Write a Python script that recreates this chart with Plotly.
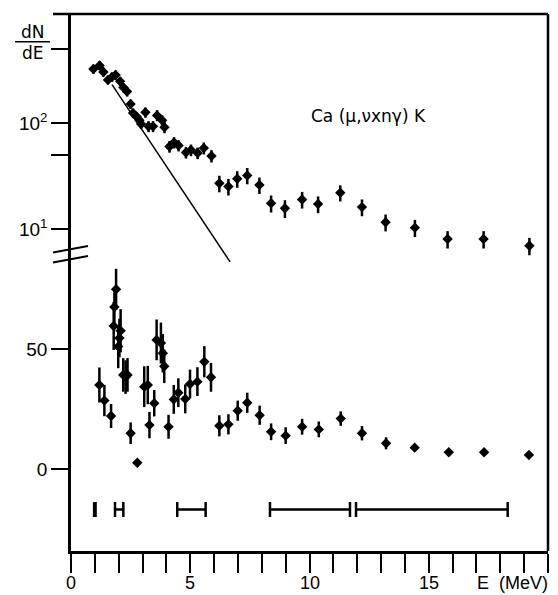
import plotly.graph_objects as go

# ---- upper panel: dN/dE on a log scale ----
top_E = [0.94, 1.20, 1.36, 1.55, 1.72, 1.87, 2.06, 2.20, 2.35, 2.50,
         2.60, 2.75, 2.87, 2.94, 3.12, 3.25, 3.44, 3.61, 3.82, 3.92,
         4.13, 4.32, 4.51, 4.82, 5.03, 5.31, 5.57, 5.89,
         6.22, 6.60, 6.97, 7.39, 7.90, 8.39, 8.97, 9.69, 10.36, 11.29,
         12.20, 13.19, 14.42, 15.79, 17.30, 19.22]
top_N = [323, 349, 303, 255, 272, 284, 247, 216, 198, 151,
         124, 115, 106, 98, 126, 93, 93, 118, 106, 91,
         60, 65.5, 61.4, 52.7, 55.6, 52.1, 58, 48.9,
         27.0, 25.2, 29.8, 32.0, 26.0, 17.5, 15.7, 19.0, 17.2, 22.0,
         16.1, 11.6, 10.3, 8.05, 8.05, 6.96]
top_err = [32, 35, 30, 25, 27, 28, 25, 22, 20, 15,
           13, 12, 11, 10, 14, 11, 11, 14, 12, 11,
           7.5, 8, 7.5, 6.5, 7, 6.5, 7.5, 6.5,
           4.8, 4.5, 5.3, 5.6, 4.6, 3.2, 3.0, 3.4, 3.1, 3.8,
           2.9, 2.1, 1.9, 1.5, 1.5, 1.3]

# exponential background drawn through the low-energy part
fit_E = [1.72, 6.67]
fit_N = [230, 4.9]

# ---- lower panel: linear scale ----
bot_E = [1.19, 1.40, 1.68, 1.79, 1.82, 1.89, 1.98, 2.03, 2.08, 2.19,
         2.29, 2.37, 2.50, 2.78, 3.07, 3.22, 3.29, 3.49, 3.59, 3.77,
         3.85, 3.91, 4.09, 4.31, 4.50, 4.79, 4.99, 5.30, 5.59, 5.87,
         6.22, 6.60, 6.99, 7.39, 7.91, 8.39, 9.00, 9.69, 10.39, 11.31,
         12.20, 13.21, 14.41, 15.84, 17.32, 19.20]
bot_N = [35.0, 28.5, 22.1, 59.6, 67.5, 74.9, 51.0, 54.6, 57.6, 39.2,
         38.3, 39.2, 14.9, 2.6, 34.3, 35.0, 18.3, 27.4, 53.8, 52.5,
         48.2, 42.8, 17.6, 29.0, 31.8, 29.2, 35.4, 36.4, 44.7, 38.2,
         18.0, 18.6, 24.3, 27.6, 22.4, 15.5, 13.9, 17.6, 16.5, 21.0,
         14.9, 10.7, 8.9, 7.0, 7.0, 5.8]
bot_err = [7.3, 6.5, 5.0, 10.0, 8.0, 8.5, 9.0, 8.0, 9.0, 7.0,
           7.0, 7.0, 4.5, 0.8, 8.5, 8.0, 5.5, 5.5, 8.5, 8.5,
           8.0, 7.0, 5.0, 6.0, 6.0, 6.0, 6.0, 6.0, 6.5, 6.0,
           4.4, 4.2, 4.2, 4.2, 4.0, 3.5, 3.5, 3.3, 3.3, 3.0,
           3.0, 2.5, 1.5, 1.0, 1.0, 0.8]

# energy resolution bars drawn under the spectrum
res_E = [1.0, 2.02, 5.05, 10.02, 15.13]
res_half = [0.03, 0.175, 0.595, 1.677, 3.18]
res_level = [-16.9] * len(res_E)

x_ticks = list(range(0, 21))
x_label_vals = [0, 5, 10, 15]
x_label_text = ["0", "5", "10", "15"]
top_tickvals = [10, 50, 100, 500]
top_ticktext = ["10<sup>1</sup>", "", "10<sup>2</sup>", ""]
bot_tickvals = [0, 50]
bot_ticktext = ["0", "50"]

FONT = "Liberation Sans Narrow, Liberation Sans, Arial"
W, H = 558, 595
ML, MR, MT, MB = 71, 10, 14, 44
PW, PH = W - ML - MR, H - MT - MB


def px(xp):
    return (xp - ML) / PW


def py(yp):
    return (H - MB - yp) / PH


fig = go.Figure()

fig.add_trace(go.Scatter(
    x=top_E, y=top_N, xaxis="x2", yaxis="y2", mode="markers",
    marker=dict(symbol="diamond", size=8, color="black"),
    error_y=dict(type="data", array=top_err, thickness=2.5, width=0, color="black"),
    showlegend=False))
fig.add_trace(go.Scatter(
    x=fit_E, y=fit_N, xaxis="x2", yaxis="y2", mode="lines",
    line=dict(color="black", width=1.5), showlegend=False))

fig.add_trace(go.Scatter(
    x=bot_E, y=bot_N, xaxis="x", yaxis="y", mode="markers",
    marker=dict(symbol="diamond", size=8, color="black"),
    error_y=dict(type="data", array=bot_err, thickness=2.5, width=0, color="black"),
    showlegend=False))
fig.add_trace(go.Scatter(
    x=res_E, y=res_level, xaxis="x", yaxis="y", mode="markers",
    marker=dict(size=0.1, color="black"),
    error_x=dict(type="data", array=res_half, thickness=2.5, width=7.5, color="black"),
    showlegend=False))

# domains: the upper panel runs to y=262 px, the lower one starts at y=253 px
top_dom = [py(262), 1.0]
bot_dom = [0.0, py(253)]

axis_common = dict(showgrid=False, zeroline=False, showline=True, linecolor="black",
                   linewidth=2.5, ticks="outside", tickcolor="black", tickwidth=2,
                   automargin=False,
                   tickfont=dict(family=FONT, size=19, color="black"))

fig.update_layout(
    width=W, height=H, margin=dict(l=ML, r=MR, t=MT, b=MB, autoexpand=False),
    paper_bgcolor="white", plot_bgcolor="rgba(0,0,0,0)",
    xaxis=dict(domain=[0, 1], range=[0, 20], anchor="y", tickvals=x_ticks,
               showticklabels=False, ticklen=19, **axis_common),
    xaxis2=dict(domain=[0, 1], range=[0, 20], anchor="y2", matches="x", visible=False),
    yaxis=dict(domain=bot_dom, range=[-34.17, 90], anchor="x", tickvals=bot_tickvals,
               ticktext=bot_ticktext, ticklen=17, **axis_common),
    yaxis2=dict(domain=top_dom, type="log", range=[0.689, 3.028], anchor="x2",
                tickvals=top_tickvals, ticktext=top_ticktext, ticklen=17, **axis_common),
)

shapes = [
    # top border, running a little past the left axis
    dict(type="line", xref="paper", yref="paper", x0=px(53), x1=1.0, y0=1.0, y1=1.0,
         line=dict(color="black", width=2.5)),
    # right border
    dict(type="line", xref="paper", yref="paper", x0=1.0, x1=1.0, y0=0.0, y1=1.0,
         line=dict(color="black", width=2.5)),
    # axis break marks
    dict(type="line", xref="paper", yref="paper", x0=px(53), x1=px(88),
         y0=py(252.5), y1=py(246), line=dict(color="black", width=2)),
    dict(type="line", xref="paper", yref="paper", x0=px(53), x1=px(88),
         y0=py(262.5), y1=py(256), line=dict(color="black", width=2)),
    # fraction bar of dN/dE
    dict(type="line", xref="paper", yref="paper", x0=px(15), x1=px(50),
         y0=py(41.7), y1=py(41.7), line=dict(color="black", width=1.5)),
]
fig.update_layout(shapes=shapes)


def label(text, x, y, xanchor="center", family="DejaVu Sans", size=17, xref="paper"):
    return dict(text=text, x=x, y=y, xref=xref, yref="paper", showarrow=False,
                xanchor=xanchor, yanchor="middle", borderpad=0,
                font=dict(family=family, size=size, color="black"))


annotations = [
    label("dN", px(33), py(32)),
    label("dE", px(33), py(53)),
    label("Ca (\u03bc,\u03bdxn\u03b3) K", px(310), py(116), xanchor="left"),
    label("E  (MeV)", px(549), py(583), xanchor="right", family=FONT, size=18),
]
# energy tick labels, set close under the tick marks
for v, t in zip(x_label_vals, x_label_text):
    annotations.append(label(t, v, py(583), family=FONT, size=18, xref="x"))
fig.update_layout(annotations=annotations)

fig.write_html("out.html")
